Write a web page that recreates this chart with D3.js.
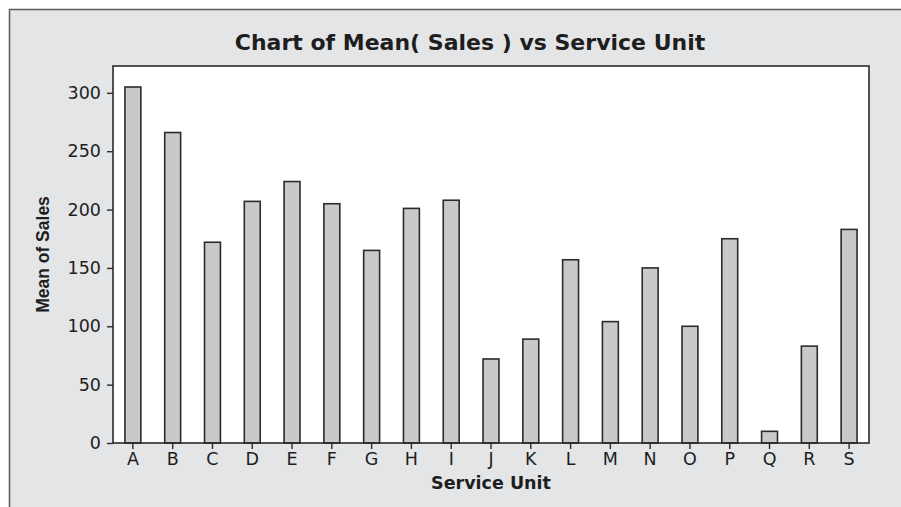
<!DOCTYPE html>
<html>
<head>
<meta charset="utf-8">
<script src="https://cdn.jsdelivr.net/npm/d3@7"></script>
<style>
  body { margin: 0; background: #fff; }
  svg { display: block; }
</style>
</head>
<body>
<div id="chart"></div>
<script>
// data
const units = ["A", "B", "C", "D", "E", "F", "G", "H", "I", "J", "K", "L", "M", "N", "O", "P", "Q", "R", "S"];
const meanSales = [305, 266, 172, 207, 224, 205, 165, 201, 208, 72, 89, 157, 104, 150, 100, 175, 10, 83, 183];
const yTicks = [0, 50, 100, 150, 200, 250, 300];

const W = 901, H = 507;
const margin = { top: 66, right: 32, bottom: 64, left: 113 },
    width = W - margin.left - margin.right,
    height = H - margin.top - margin.bottom;

const svg = d3.select("#chart").append("svg")
    .attr("width", W)
    .attr("height", H);

// outer panel (runs off the bottom/right edge like the scan)
svg.append("rect")
    .attr("x", 9.5).attr("y", 9.5)
    .attr("width", W + 20).attr("height", H + 20)
    .style("fill", "#e4e5e7")
    .style("stroke", "#5a5a5a")
    .style("stroke-width", 1.5);

const g = svg.append("g")
    .attr("transform", `translate(${margin.left},${margin.top})`);

// plot area
g.append("rect")
    .attr("width", width).attr("height", height)
    .style("fill", "#fff");

const xScale = d3.scaleBand()
    .domain(units)
    .range([0, width])
    .paddingInner(0.6)
    .paddingOuter(0.3);

const yScale = d3.scaleLinear()
    .domain([0, 323])
    .range([height, 0]);

// bars
g.selectAll(".bar")
    .data(units)
    .enter().append("rect")
    .attr("class", "bar")
    .attr("x", d => xScale(d))
    .attr("width", xScale.bandwidth())
    .attr("y", (d, i) => yScale(meanSales[i]))
    .attr("height", (d, i) => height - yScale(meanSales[i]))
    .style("fill", "#c8c9cb")
    .style("stroke", "#2b2b2b")
    .style("stroke-width", 1.6);

// frame on top of the bars
g.append("rect")
    .attr("width", width).attr("height", height)
    .style("fill", "none")
    .style("stroke", "#2b2b2b")
    .style("stroke-width", 1.6);

// axes
const xAxis = g.append("g")
    .attr("transform", `translate(0,${height})`)
    .call(d3.axisBottom(xScale).tickSize(6).tickPadding(4).tickSizeOuter(0));

const yAxis = g.append("g")
    .call(d3.axisLeft(yScale).tickValues(yTicks).tickSize(6).tickPadding(6).tickSizeOuter(0));

[xAxis, yAxis].forEach(ax => {
    ax.select(".domain").remove();
    ax.selectAll("line").style("stroke", "#2b2b2b").style("stroke-width", 1.4);
    ax.selectAll("text")
        .style("font-family", "DejaVu Sans, sans-serif")
        .style("font-size", "17.5px")
        .style("fill", "#1e1e1e");
});

// title
svg.append("text")
    .attr("x", 470)
    .attr("y", 50)
    .attr("text-anchor", "middle")
    .style("font-family", "DejaVu Sans, sans-serif")
    .style("font-weight", "bold")
    .style("font-size", "22px")
    .style("fill", "#1e1e1e")
    .text("Chart of Mean( Sales ) vs Service Unit");

// axis titles
svg.append("text")
    .attr("x", margin.left + width / 2)
    .attr("y", 489)
    .attr("text-anchor", "middle")
    .style("font-family", "DejaVu Sans, sans-serif")
    .style("font-weight", "bold")
    .style("font-size", "17.5px")
    .style("fill", "#1e1e1e")
    .text("Service Unit");

svg.append("text")
    .attr("transform", `translate(49,${margin.top + height / 2}) rotate(-90)`)
    .attr("text-anchor", "middle")
    .style("font-family", "Liberation Sans, Arial, sans-serif")
    .style("font-weight", "bold")
    .style("font-size", "17.5px")
    .style("fill", "#1e1e1e")
    .text("Mean of Sales");
</script>
</body>
</html>
